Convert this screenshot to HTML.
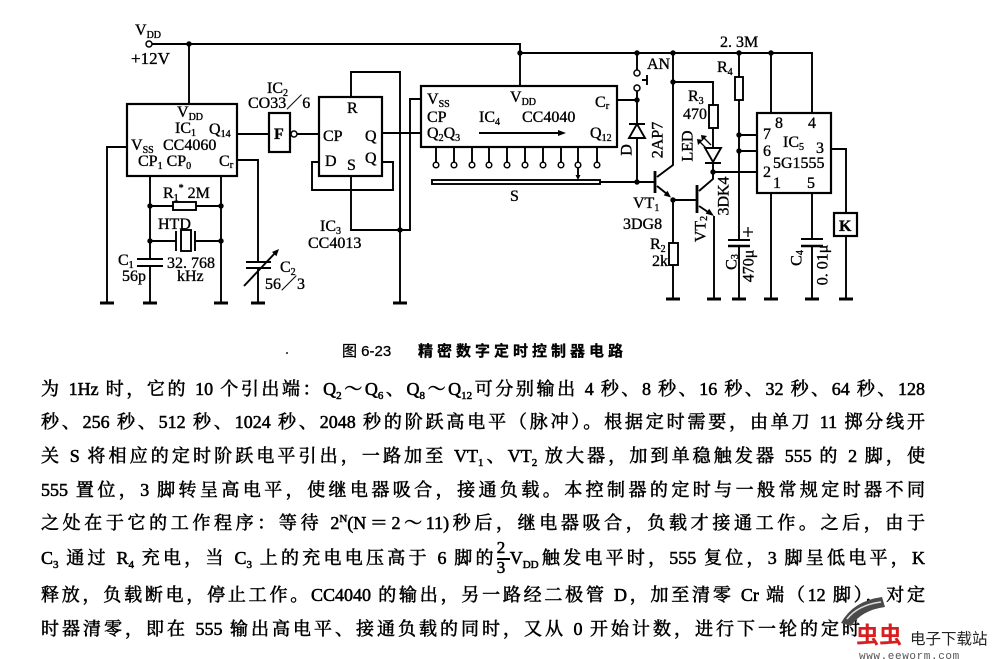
<!DOCTYPE html>
<html><head><meta charset="utf-8">
<style>
body{margin:0;background:#fff;}
#w{position:relative;width:992px;height:659px;overflow:hidden;background:#fff;}
svg{position:absolute;left:0;top:0;}
.ln{position:absolute;left:41px;width:884px;height:20px;line-height:20px;font-family:"Liberation Serif","Noto Serif CJK SC",serif;font-size:18px;color:#000;text-align:justify;text-align-last:justify;-webkit-text-stroke:0.55px #000;}
.b{font-size:11px;position:relative;top:4px;}
.p{font-size:11px;position:relative;top:-7px;}
.frac{display:inline-block;position:relative;width:13px;height:20px;vertical-align:top;}
.frac .n{position:absolute;left:0;top:-9px;width:13px;text-align:center;font-size:17px;line-height:17px;}
.frac .d{position:absolute;left:0;top:11px;width:13px;text-align:center;font-size:17px;line-height:17px;}
.frac .bar{position:absolute;left:0;top:10px;width:13px;height:1.5px;background:#000;}
.cap1{position:absolute;left:342px;top:343px;font-family:"Liberation Sans","Noto Sans CJK SC",sans-serif;font-size:15px;line-height:18px;color:#000;-webkit-text-stroke:0.3px #000;}
.cap2{position:absolute;left:418px;top:343px;width:205px;font-family:"Liberation Sans","Noto Sans CJK SC",sans-serif;font-weight:bold;font-size:15px;line-height:18px;text-align:justify;text-align-last:justify;color:#000;-webkit-text-stroke:0.3px #000;}
</style></head><body><div id="w">
<svg width="992" height="659" viewBox="0 0 992 659" font-family="Liberation Serif, Noto Serif CJK SC, serif" font-size="16" fill="#000">
<g fill="none" stroke="#000" stroke-width="1.9">
 <path d="M152,44 H520 V53 H812 V113"/>
 <path d="M189,44 V104"/>
 <path d="M520,53 V86"/>
 <rect x="127" y="104" width="110" height="72" stroke-width="2.2"/>
 <path d="M237,134 H269"/>
 <rect x="269" y="113" width="21" height="39" stroke-width="2.2"/>
 <path d="M297,134 H319"/>
 <rect x="319" y="97" width="63" height="79" stroke-width="2.2"/>
 <path d="M351,97 V72 H400 V303"/>
 <path d="M351,176 V230 H410 V99 H421"/>
 <path d="M382,133 H421"/>
 <path d="M382,162 H393 V190 H312 V162 H319"/>
 <path d="M150,176 V259 M137,259 H163 M137,266 H163 M150,266 V303"/>
 <path d="M221,176 V303"/>
 <path d="M150,206 H173 M196,206 H221"/>
 <rect x="173" y="202" width="23" height="8"/>
 <path d="M150,241 H176 M176,231 V251 M195,231 V251 M195,241 H221"/>
 <rect x="181" y="230" width="10" height="21"/>
 <path d="M127,147 H107 V303"/>
 <path d="M237,160 H258 V262 M246,262 H271 M246,268 H271 M258,268 V303"/>
 <path d="M244,286 L276,252"/>
 <rect x="421" y="86" width="196" height="61" stroke-width="2.2"/>
 <path d="M436,147V162 M454,147V162 M472,147V162 M489,147V162 M507,147V162 M525,147V162 M543,147V162 M561,147V162 M578,147V162 M597,147V162"/>
 <rect x="432" y="180" width="168" height="4"/>
 <path d="M578,168 V176"/>
 <path d="M600,182 H655"/>
 <path d="M617,100 H637"/>
 <path d="M637,53 V70 M637,91 V124 M629,124 H645 M637,138 V182"/>
 <path d="M637,124 L629,138 H645 Z"/>
 <path d="M642,80 H647 M647,75 V85"/>
 <path d="M479,133 H560"/>
 <path d="M673,53 V165 L657,177"/>
 <path d="M655,171 V193" stroke-width="2.8"/>
 <path d="M657,186 L667,194"/>
 <path d="M673,82 H713 V105 M713,128 V148 M705,163 H721 M713,163 V179 L699,191"/>
 <path d="M705,148 H721 L713,162 Z"/>
 <rect x="709" y="105" width="9" height="23"/>
 <path d="M707,149 L699,141 M711,145 L703,137" stroke-width="1.3"/>
 <path d="M713,172 H757"/>
 <path d="M673,199 V243 M673,265 V299"/>
 <rect x="669" y="243" width="9" height="22"/>
 <path d="M673,200 H697"/>
 <path d="M697,185 V213" stroke-width="2.8"/>
 <path d="M699,206 L708,212 M714,216 V299"/>
 <path d="M739,53 V77 M739,100 V240 M728,240 H750 M739,246 V299 M739,135 H757 M739,151 H757"/>
 <path d="M728,246 H750" stroke-width="2.4"/>
 <rect x="735" y="77" width="8" height="23"/>
 <path d="M748,227 V237 M743,232 H753" stroke-width="1.3"/>
 <rect x="757" y="113" width="74" height="80" stroke-width="2.2"/>
 <path d="M771,53 V113 M771,193 V299 M812,193 V239 M801,239 H823 M812,246 V299 M831,149 H846 V213 M846,236 V299"/>
 <path d="M801,246 H823" stroke-width="2.4"/>
 <rect x="834" y="213" width="23" height="23" stroke-width="2.2"/>
</g>
<g fill="#fff" stroke="#000" stroke-width="1.5">
 <circle cx="149" cy="44" r="3"/>
 <circle cx="294" cy="134" r="3"/>
 <circle cx="637" cy="73" r="3"/><circle cx="637" cy="88" r="3"/>
 <circle cx="436" cy="165" r="2.8"/><circle cx="454" cy="165" r="2.8"/><circle cx="472" cy="165" r="2.8"/><circle cx="489" cy="165" r="2.8"/><circle cx="507" cy="165" r="2.8"/><circle cx="525" cy="165" r="2.8"/><circle cx="543" cy="165" r="2.8"/><circle cx="561" cy="165" r="2.8"/><circle cx="578" cy="165" r="2.8"/><circle cx="597" cy="165" r="2.8"/>
</g>
<g stroke="#000" stroke-width="3" fill="none">
 <path d="M100,303H114 M143,303H157 M214,303H228 M251,303H265 M393,303H407"/>
 <path d="M666,299H680 M707,299H721 M732,299H746 M764,299H778 M805,299H819 M839,299H853"/>
</g>
<g fill="#000">
 <circle cx="189" cy="44" r="2.7"/><circle cx="520" cy="53" r="2.7"/><circle cx="637" cy="53" r="2.7"/><circle cx="673" cy="53" r="2.7"/><circle cx="739" cy="53" r="2.7"/><circle cx="771" cy="53" r="2.7"/>
 <circle cx="150" cy="206" r="2.7"/><circle cx="221" cy="206" r="2.7"/><circle cx="150" cy="241" r="2.7"/><circle cx="221" cy="241" r="2.7"/>
 <circle cx="400" cy="230" r="2.7"/><circle cx="637" cy="100" r="2.7"/><circle cx="637" cy="182" r="2.7"/><circle cx="673" cy="82" r="2.7"/><circle cx="673" cy="200" r="2.7"/><circle cx="713" cy="172" r="2.7"/><circle cx="739" cy="135" r="2.7"/><circle cx="739" cy="151" r="2.7"/>
 <polygon points="671,197.5 663.7,195.4 667.5,190.8"/>
 <polygon points="714,216 705.6,213.6 709.2,208.8"/>
 <polygon points="279,249 276.4,256.2 272,252"/>
 <polygon points="566,133 558,130 558,136"/>
 <polygon points="578,180 575.5,175 580.5,175"/>
 <polygon points="697,139 703,140 698,145"/>
 <polygon points="701,135 707,136 702,141"/>
 <rect x="286" y="352" width="2" height="2" fill="#555"/>
</g>
<g stroke="#000" stroke-width="0.35">
 <text x="135" y="35">V<tspan font-size="10" dy="3">DD</tspan></text>
 <text x="131" y="64" font-size="17">+12V</text>
 <text x="177" y="117">V<tspan font-size="10" dy="3">DD</tspan></text>
 <text x="175" y="133">IC<tspan font-size="10" dy="3">1</tspan></text>
 <text x="209" y="134">Q<tspan font-size="10" dy="3">14</tspan></text>
 <text x="131" y="150">V<tspan font-size="10" dy="3">SS</tspan></text>
 <text x="163" y="150">CC4060</text>
 <text x="138" y="166">CP<tspan font-size="10" dy="3">1</tspan><tspan dy="-3"> CP</tspan><tspan font-size="10" dy="3">0</tspan></text>
 <text x="219" y="166">C<tspan font-size="11" dy="2">r</tspan></text>
 <text x="274" y="139" font-weight="bold">F</text>
 <text x="267" y="93">IC<tspan font-size="10" dy="3">2</tspan></text>
 <text x="248" y="108">CO33／6</text>
 <text x="347" y="113">R</text>
 <text x="323" y="141">CP</text>
 <text x="365" y="141">Q</text>
 <text x="325" y="166">D</text>
 <text x="347" y="170">S</text>
 <text x="365" y="163">Q</text>
 <text x="320" y="231">IC<tspan font-size="10" dy="3">3</tspan></text>
 <text x="308" y="248">CC4013</text>
 <text x="163" y="198">R<tspan font-size="10" dy="3">1</tspan><tspan font-size="10" dy="-10">*</tspan><tspan dy="7"> 2M</tspan></text>
 <text x="158" y="229">HTD</text>
 <text x="118" y="265">C<tspan font-size="10" dy="3">1</tspan></text>
 <text x="122" y="281">56p</text>
 <text x="167" y="268">32. 768</text>
 <text x="177" y="281">kHz</text>
 <text x="280" y="272">C<tspan font-size="10" dy="3">2</tspan></text>
 <text x="265" y="289">56／3</text>
 <text x="427" y="104">V<tspan font-size="10" dy="3">SS</tspan></text>
 <text x="510" y="102">V<tspan font-size="10" dy="3">DD</tspan></text>
 <text x="595" y="107">C<tspan font-size="11" dy="2">r</tspan></text>
 <text x="427" y="122">CP</text>
 <text x="479" y="122">IC<tspan font-size="10" dy="3">4</tspan></text>
 <text x="522" y="122">CC4040</text>
 <text x="427" y="138">Q<tspan font-size="10" dy="3">2</tspan><tspan dy="-3">Q</tspan><tspan font-size="10" dy="3">3</tspan></text>
 <text x="590" y="138">Q<tspan font-size="10" dy="3">12</tspan></text>
 <text x="510" y="201">S</text>
 <text x="647" y="69">AN</text>
 <text transform="translate(627,150) rotate(-90)" text-anchor="middle" dominant-baseline="central">D</text>
 <text transform="translate(658,140) rotate(-90)" text-anchor="middle" dominant-baseline="central">2AP7</text>
 <text x="633" y="208">VT<tspan font-size="10" dy="3">1</tspan></text>
 <text x="623" y="229">3DG8</text>
 <text x="650" y="249">R<tspan font-size="10" dy="3">2</tspan></text>
 <text x="652" y="266">2k</text>
 <text x="688" y="101">R<tspan font-size="10" dy="3">3</tspan></text>
 <text x="683" y="119">470</text>
 <text transform="translate(688,146) rotate(-90)" text-anchor="middle" dominant-baseline="central">LED</text>
 <text transform="translate(701,229) rotate(-90)" text-anchor="middle" dominant-baseline="central">VT<tspan font-size="10" dy="3">2</tspan></text>
 <text transform="translate(724,196) rotate(-90)" text-anchor="middle" dominant-baseline="central">3DK4</text>
 <text x="720" y="47">2. 3M</text>
 <text x="717" y="72">R<tspan font-size="10" dy="3">4</tspan></text>
 <text transform="translate(732,262) rotate(-90)" text-anchor="middle" dominant-baseline="central">C<tspan font-size="10" dy="3">3</tspan></text>
 <text transform="translate(749,266) rotate(-90)" text-anchor="middle" dominant-baseline="central">470μ</text>
 <text x="775" y="128">8</text>
 <text x="808" y="128">4</text>
 <text x="763" y="139">7</text>
 <text x="783" y="147">IC<tspan font-size="10" dy="3">5</tspan></text>
 <text x="816" y="153">3</text>
 <text x="763" y="156">6</text>
 <text x="773" y="168">5G1555</text>
 <text x="763" y="177">2</text>
 <text x="773" y="188">1</text>
 <text x="807" y="188">5</text>
 <text x="839" y="231" font-weight="bold">K</text>
 <text transform="translate(797,258) rotate(-90)" text-anchor="middle" dominant-baseline="central">C<tspan font-size="10" dy="3">4</tspan></text>
 <text transform="translate(823,265) rotate(-90)" text-anchor="middle" dominant-baseline="central">0. 01μ</text>
</g>
</svg>
<div class="cap1">图 6-23</div>
<div class="cap2">精密数字定时控制器电路</div>
<div class="ln" style="top:379px">为 1Hz 时，它的 10 个引出端：Q<span class="b">2</span>～Q<span class="b">6</span>、Q<span class="b">8</span>～Q<span class="b">12</span>可分别输出 4 秒、8 秒、16 秒、32 秒、64 秒、128</div>
<div class="ln" style="top:412px">秒、256 秒、512 秒、1024 秒、2048 秒的阶跃高电平（脉冲）。根据定时需要，由单刀 11 掷分线开</div>
<div class="ln" style="top:446px">关 S 将相应的定时阶跃电平引出，一路加至 VT<span class="b">1</span>、VT<span class="b">2</span> 放大器，加到单稳触发器 555 的 2 脚，使</div>
<div class="ln" style="top:480px">555 置位，3 脚转呈高电平，使继电器吸合，接通负载。本控制器的定时与一般常规定时器不同</div>
<div class="ln" style="top:513px">之处在于它的工作程序：等待 2<span class="p">N</span>(N＝2～11)秒后，继电器吸合，负载才接通工作。之后，由于</div>
<div class="ln" style="top:548px">C<span class="b">3</span> 通过 R<span class="b">4</span> 充电，当 C<span class="b">3</span> 上的充电电压高于 6 脚的<span class="frac"><span class="n">2</span><span class="bar"></span><span class="d">3</span></span>V<span class="b">DD</span>触发电平时，555 复位，3 脚呈低电平，K</div>
<div class="ln" style="top:585px">释放，负载断电，停止工作。CC4040 的输出，另一路经二极管 D，加至清零 Cr 端（12 脚），对定</div>
<div class="ln" style="top:619px;width:819px">时器清零，即在 555 输出高电平、接通负载的同时，又从 0 开始计数，进行下一轮的定时</div>
<svg width="992" height="659" viewBox="0 0 992 659">
 <path d="M841,623 Q853,601 882,597 L885,607 Q862,610 851,626 Z" fill="#4a4a4a"/>
 <path d="M847,619 Q858,605 881,602" fill="none" stroke="#ddd" stroke-width="1.5"/>
 <text x="856" y="643" font-family="Noto Sans CJK SC, sans-serif" font-weight="bold" font-size="23" fill="#d81e1e">虫虫</text>
 <text x="910" y="644" font-family="Noto Sans CJK SC, sans-serif" font-size="15.5" fill="#222">电子下载站</text>
 <text x="859" y="659" font-family="Liberation Mono, monospace" font-size="11" letter-spacing="0.6" fill="#555">www.eeworm.com</text>
</svg>
</div></body></html>
